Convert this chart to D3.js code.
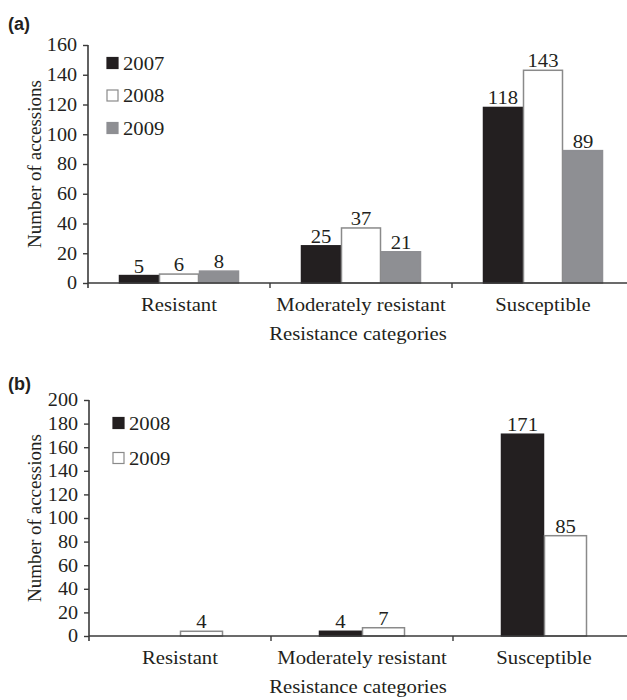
<!DOCTYPE html>
<html>
<head>
<meta charset="utf-8">
<script src="https://cdn.jsdelivr.net/npm/d3@7"></script>
<style>
  body { margin: 0; background: #fff; }
  text { font-family: "Liberation Serif", "Times New Roman", serif; fill: #231f20; }
  .panel { font-family: "Liberation Sans", Arial, sans-serif; font-weight: bold; }
</style>
</head>
<body>
<svg width="627" height="700"></svg>
<script>
// categories shared by both panels
var categories = ["Resistant", "Moderately resistant", "Susceptible"];

// panel (a)
var yearsA = ["2007", "2008", "2009"];
var a2007 = [5, 25, 118];
var a2008 = [6, 37, 143];
var a2009 = [8, 21, 89];
var ticksA = [0, 20, 40, 60, 80, 100, 120, 140, 160];

// panel (b)
var yearsB = ["2008", "2009"];
var b2008 = [0, 4, 171];
var b2009 = [4, 7, 85];
var ticksB = [0, 20, 40, 60, 80, 100, 120, 140, 160, 180, 200];

var svg = d3.select("svg");
var axisColor = "#3a3a3a";
// the original type is a little wider than Liberation Serif
var sx = 1.09;

// horizontal label, slightly stretched
function label(g, x, y, txt, size, anchor) {
    return g.append("text")
        .attr("transform", "translate(" + x + "," + y + ") scale(" + sx + ",1)")
        .attr("text-anchor", anchor || "middle")
        .style("font-size", size + "px")
        .text(txt);
}

function drawPanel(opt) {
    var g = svg.append("g");

    var x = d3.scaleBand()
        .domain(categories)
        .range([opt.left, opt.left + 3 * 182]);

    var inner = d3.scaleBand()
        .domain(opt.years)
        .range([opt.groupPad, opt.groupPad + opt.years.length * opt.barW]);

    var y = d3.scaleLinear()
        .domain([0, opt.max])
        .range([opt.bottom, opt.top]);

    // panel label
    g.append("text").attr("class", "panel")
        .attr("x", 8).attr("y", opt.labelY)
        .style("font-size", "18px")
        .text(opt.label);

    // bars
    opt.years.forEach(function (yr, si) {
        var vals = opt.series[si];
        var st = opt.styles[si];
        categories.forEach(function (c, ci) {
            var v = vals[ci];
            if (!v) return;
            var bx = x(c) + inner(yr);
            g.append("rect")
                .attr("x", bx + 0.5)
                .attr("y", y(v))
                .attr("width", inner.bandwidth() - 1)
                .attr("height", y(0) - y(v))
                .attr("fill", st.fill)
                .attr("stroke", st.stroke)
                .attr("stroke-width", 1.5);
            label(g, bx + inner.bandwidth() / 2, y(v) - 3, v, 19);
        });
    });

    // y axis
    var yAxis = d3.axisLeft(y).tickValues(opt.ticks).tickSize(5).tickPadding(5);
    var ya = g.append("g")
        .attr("transform", "translate(" + opt.left + ",0)")
        .call(yAxis);
    ya.select(".domain").attr("stroke", axisColor).attr("stroke-width", 1.6)
        .attr("d", "M0," + opt.top + "V" + (opt.bottom + 5));
    ya.selectAll(".tick line").attr("stroke", axisColor).attr("stroke-width", 1.4);
    ya.selectAll(".tick text")
        .attr("transform", "scale(" + sx + ",1)")
        .style("font-family", "Liberation Serif, serif")
        .style("font-size", "18.5px")
        .attr("fill", "#231f20");

    // x axis line and category dividers
    g.append("line")
        .attr("x1", opt.left).attr("x2", 627)
        .attr("y1", y(0)).attr("y2", y(0))
        .attr("stroke", axisColor).attr("stroke-width", 1.6);
    categories.slice(1).forEach(function (c) {
        g.append("line")
            .attr("x1", x(c)).attr("x2", x(c))
            .attr("y1", y(0)).attr("y2", y(0) + 5)
            .attr("stroke", axisColor).attr("stroke-width", 1.4);
    });

    // category labels
    categories.forEach(function (c) {
        label(g, x(c) + x.bandwidth() / 2, opt.bottom + 28, c, 19);
    });

    label(g, 358, opt.bottom + 57, "Resistance categories", 19);

    // y title
    g.append("text")
        .attr("transform", "translate(41," + ((opt.top + opt.bottom) / 2) + ") rotate(-90)")
        .attr("text-anchor", "middle")
        .style("font-size", "19px")
        .text("Number of accessions");

    // legend
    opt.years.forEach(function (yr, si) {
        var st = opt.styles[si];
        var ly = opt.legendY + si * opt.legendGap;
        g.append("rect")
            .attr("x", opt.legendX).attr("y", ly - 5.5)
            .attr("width", 11).attr("height", 11)
            .attr("fill", st.fill).attr("stroke", st.stroke).attr("stroke-width", 1.2);
        label(g, opt.legendX + 16, ly + 6.5, yr, 19, "start");
    });
}

var black = { fill: "#231f20", stroke: "#231f20" };
var white = { fill: "#ffffff", stroke: "#8a8a8a" };
var gray = { fill: "#8e8f93", stroke: "#8e8f93" };

drawPanel({
    label: "(a)", labelY: 30,
    left: 88, top: 45, bottom: 283, max: 160, ticks: ticksA,
    years: yearsA, series: [a2007, a2008, a2009], styles: [black, white, gray],
    barW: 40, groupPad: 31,
    legendX: 107, legendY: 63, legendGap: 32.5
});

drawPanel({
    label: "(b)", labelY: 390,
    left: 89, top: 400, bottom: 636, max: 200, ticks: ticksB,
    years: yearsB, series: [b2008, b2009], styles: [black, white],
    barW: 43, groupPad: 48,
    legendX: 113, legendY: 423, legendGap: 35
});
</script>
</body>
</html>
